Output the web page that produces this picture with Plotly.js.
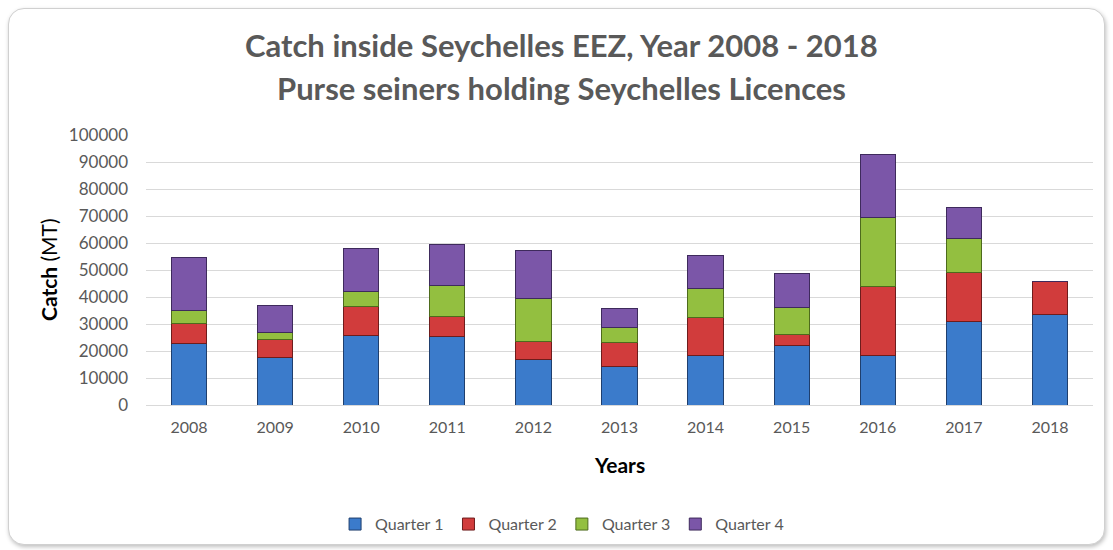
<!DOCTYPE html>
<html>
<head>
<meta charset="utf-8">
<script src="https://cdn.plot.ly/plotly-3.0.1.min.js"></script>
<style>
  html, body { margin:0; padding:0; background:#ffffff; }
  #frame { position:absolute; left:8px; top:8px; width:1095px; height:535px; border:1px solid #d0d0d0; border-radius:16px; box-shadow:1px 2px 4px rgba(0,0,0,0.25); background:#fff; }
  #chart { position:absolute; left:0; top:0; width:1113px; height:550px; }
</style>
</head>
<body>
<div id="frame"></div>
<div id="chart"></div>
<script>
const years = ['2008','2009','2010','2011','2012','2013','2014','2015','2016','2017','2018'];
const quarter1 = [22800, 17700, 25900, 25300, 16900, 14200, 18300, 22200, 18500, 30900, 33600];
const quarter2 = [7400, 6600, 10500, 7400, 6600, 8900, 14000, 4000, 25300, 18100, 12200];
const quarter3 = [4700, 2500, 5800, 11500, 15800, 5500, 10700, 9900, 25500, 12500, 0];
const quarter4 = [19800, 9900, 15800, 15100, 18100, 7300, 12400, 12700, 23500, 11700, 0];
const seriesNames = ['Quarter 1','Quarter 2','Quarter 3','Quarter 4'];
const seriesValues = [quarter1, quarter2, quarter3, quarter4];
const fills = ['#3b7bcb', '#d13c3c', '#93bf40', '#7b56a8'];
const edges = ['#1f3f6e', '#6e1c1c', '#4d6b1c', '#3e2a5c'];

const FONT = 'Lato, "Open Sans", "Liberation Sans", sans-serif';
const grey = '#595959';

const traces = seriesNames.map((n, i) => ({
  type: 'bar', name: n, x: years, y: seriesValues[i],
  marker: { color: fills[i], line: { color: edges[i], width: 1 } }
}));

const layout = {
  width: 1113, height: 550,
  paper_bgcolor: 'rgba(0,0,0,0)', plot_bgcolor: 'rgba(0,0,0,0)',
  barmode: 'stack', bargap: 0.59,
  margin: { l: 146, r: 20, t: 135, b: 145 },
  font: { family: FONT, color: grey, size: 16 },
  xaxis: {
    type: 'category', showgrid: false, showline: true, linecolor: '#d9d9d9', linewidth: 1,
    ticks: '', tickfont: { size: 16, color: grey }, ticklabelstandoff: 8
  },
  yaxis: {
    range: [0, 100000], dtick: 10000, tickformat: 'd', showgrid: true, gridcolor: '#d9d9d9', gridwidth: 1,
    zeroline: false, showline: false, ticks: '', tickfont: { size: 17, color: grey }, ticklabelstandoff: 17
  },
  legend: {
    orientation: 'h', xref: 'container', yref: 'container', x: 0.505, y: 0.047,
    xanchor: 'center', yanchor: 'middle', font: { size: 16, color: grey },
    itemwidth: 30, traceorder: 'normal'
  },
  annotations: [
    { text: '<b>Catch inside Seychelles EEZ, Year 2008 - 2018</b>', xref: 'paper', yref: 'paper', x: 0.5, y: 1, xshift: -58, yshift: 90,
      yanchor: 'middle', xanchor: 'center', showarrow: false, font: { size: 31, color: grey, family: FONT } },
    { text: '<b>Purse seiners holding Seychelles Licences</b>', xref: 'paper', yref: 'paper', x: 0.5, y: 1, xshift: -58, yshift: 47,
      yanchor: 'middle', xanchor: 'center', showarrow: false, font: { size: 31, color: grey, family: FONT } },
    { text: '<b>Catch</b> (MT)', xref: 'paper', yref: 'paper', x: 0, y: 0.5, xshift: -98,
      textangle: -90, xanchor: 'center', yanchor: 'middle', showarrow: false, font: { size: 21, color: '#000000', family: FONT } },
    { text: '<b>Years</b>', xref: 'paper', yref: 'paper', x: 0.5, y: 0, yshift: -59,
      xanchor: 'center', yanchor: 'middle', showarrow: false, font: { size: 21, color: '#000000', family: FONT } }
  ]
};

Plotly.newPlot('chart', traces, layout, { displayModeBar: false, staticPlot: true });
</script>
</body>
</html>
